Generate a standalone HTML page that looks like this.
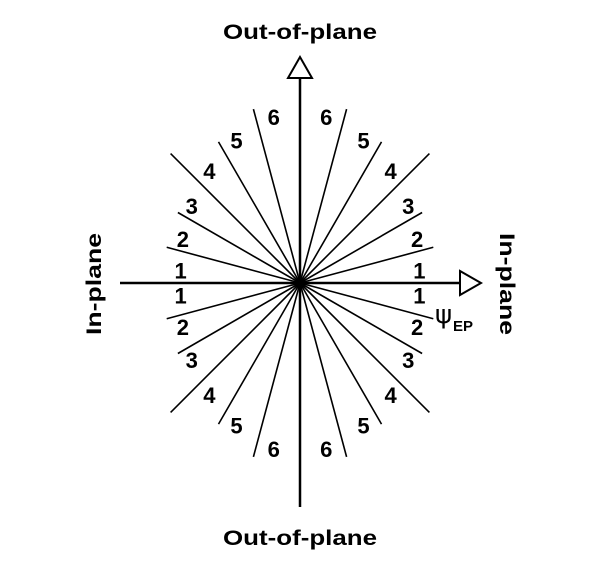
<!DOCTYPE html>
<html><head><meta charset="utf-8"><style>
html,body{margin:0;padding:0;background:#fff;}
svg text{font-family:"Liberation Sans",Arial,sans-serif;font-weight:bold;fill:#000;}
</style></head><body>
<svg id="chart" width="600" height="564" viewBox="0 0 600 564" xmlns="http://www.w3.org/2000/svg">
<text x="300" y="39" font-size="21" text-anchor="middle" textLength="154" lengthAdjust="spacingAndGlyphs">Out-of-plane</text>
<text x="300" y="545" font-size="21" text-anchor="middle" textLength="154" lengthAdjust="spacingAndGlyphs">Out-of-plane</text>
<text transform="translate(101,284) rotate(-90)" font-size="21" text-anchor="middle" textLength="102" lengthAdjust="spacingAndGlyphs">In-plane</text>
<text transform="translate(500,284) rotate(90)" font-size="21" text-anchor="middle" textLength="102" lengthAdjust="spacingAndGlyphs">In-plane</text>
<line x1="300" y1="78" x2="300" y2="507" stroke="#000" stroke-width="2.5"/>
<line x1="120" y1="283" x2="460" y2="283" stroke="#000" stroke-width="2.5"/>
<polygon points="300,57 288,78 312,78" fill="#fff" stroke="#000" stroke-width="2"/>
<polygon points="481,283 460,271 460,295" fill="#fff" stroke="#000" stroke-width="2"/>
<g id="rays"></g>
<g id="labels"></g>
<text x="435" y="323" font-size="26" style="font-family:'DejaVu Sans',sans-serif;font-weight:normal">ψ</text>
<text x="453" y="331" font-size="15">EP</text>
</svg>
<script>
const binAngles = [15, 30, 45, 60, 75];
const rayLengths = [138, 141, 183, 163, 180];
const binLabels = ["1","2","3","4","5","6"];
const labelRadius = [120, 125, 133, 144, 156, 168];
const labelAngles = [6, 20.5, 35.5, 51, 66, 81];
const cx = 300, cy = 283;
const NS = "http://www.w3.org/2000/svg";
const rays = document.getElementById('rays');
const labels = document.getElementById('labels');
function px(a, r, sx){ return cx + sx * r * Math.cos(a*Math.PI/180); }
function py(a, r, sy){ return cy + sy * r * Math.sin(a*Math.PI/180); }
const quads = [[1,-1],[-1,-1],[1,1],[-1,1]];
quads.forEach(([sx,sy])=>{
  binAngles.forEach((a,i)=>{
    const l = document.createElementNS(NS,'line');
    
    
    l.setAttribute('x1', cx); l.setAttribute('y1', cy);
    l.setAttribute('x2', px(a, rayLengths[i], sx));
    l.setAttribute('y2', py(a, rayLengths[i], sy));
    l.setAttribute('stroke', '#000'); l.setAttribute('stroke-width', '1.6');
    rays.appendChild(l);
  });
  binLabels.forEach((t,i)=>{
    const tx = document.createElementNS(NS,'text');
    
    
    tx.setAttribute('x', px(labelAngles[i], labelRadius[i], sx));
    tx.setAttribute('y', py(labelAngles[i], labelRadius[i], sy) + 8);
    tx.setAttribute('font-size', '22');
    tx.setAttribute('text-anchor', 'middle');
    tx.textContent = t;
    labels.appendChild(tx);
  });
});
</script>
</body></html>
